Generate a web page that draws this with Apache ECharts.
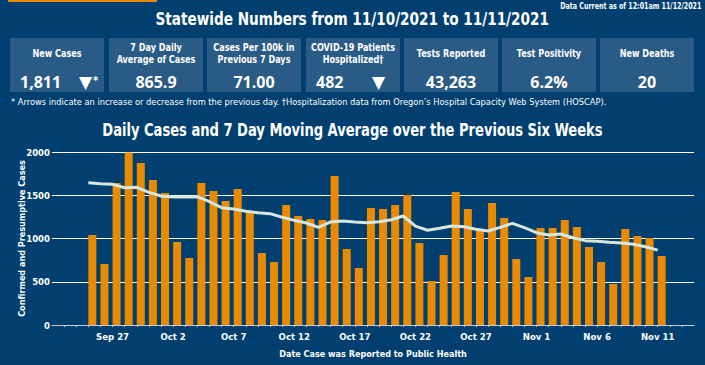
<!DOCTYPE html>
<html>
<head>
<meta charset="utf-8">
<script src="https://cdn.jsdelivr.net/npm/echarts@6/dist/echarts.min.js"></script>
<style>
  html, body { margin:0; padding:0; width:705px; height:365px; overflow:hidden; background:#003f6f; }
  body { position:relative; font-family:"DejaVu Sans Condensed","DejaVu Sans",sans-serif; color:#fff; }
  #chart { position:absolute; left:0; top:0; width:705px; height:365px; }
  .topbar { position:absolute; left:8px; top:0; width:149px; height:2px; background:#e98a00; }
  .stamp { position:absolute; right:4px; top:2px; font-size:8px; font-weight:bold; white-space:nowrap; transform:scaleX(0.88); transform-origin:right center; }
  .head { position:absolute; left:0; width:705px; top:8px; text-align:center; font-size:18px; font-weight:bold; white-space:nowrap; transform:scaleX(0.84); transform-origin:351px center; }
  .ctitle { position:absolute; left:0; width:705px; top:120px; text-align:center; font-size:17px; font-weight:bold; white-space:nowrap; transform:scaleX(0.855); transform-origin:352px center; }
  .box { position:absolute; top:38px; height:54px; width:94px; background:#2a5b86; }
  .lbl { position:absolute; text-align:center; font-size:10px; font-weight:bold; line-height:12px; white-space:nowrap; transform:scaleX(0.9); }
  .val { position:absolute; top:73px; font-family:"Open Sans",sans-serif; font-size:16px; font-weight:bold; line-height:18px; white-space:nowrap; }
  .arrow { position:absolute; top:73px; font-family:"DejaVu Sans",sans-serif; font-size:17px; line-height:18px; }
  .star { position:absolute; top:74px; font-size:11px; font-weight:bold; }
  .note { position:absolute; left:11px; top:96px; font-size:9.5px; white-space:nowrap; transform:scaleX(0.97); transform-origin:left center; }
</style>
</head>
<body>
<div id="chart"></div>
<div class="topbar"></div>
<div class="stamp">Data Current as of 12:01am 11/12/2021</div>
<div class="head">Statewide Numbers from 11/10/2021 to 11/11/2021</div>
<div class="ctitle">Daily Cases and 7 Day Moving Average over the Previous Six Weeks</div>
<div class="note">* Arrows indicate an increase or decrease from the previous day. †Hospitalization data from Oregon’s Hospital Capacity Web System (HOSCAP).</div>
<script>
// ---- Data ----
var statLabels = [
  ["New Cases"],
  ["7 Day Daily", "Average of Cases"],
  ["Cases Per 100k in", "Previous 7 Days"],
  ["COVID-19 Patients", "Hospitalized†"],
  ["Tests Reported"],
  ["Test Positivity"],
  ["New Deaths"]
];
var statValues = ["1,811", "865.9", "71.00", "482", "43,263", "6.2%", "20"];
var statArrows = ["▼", "", "", "▼", "", "", ""];

var dates = ["Sep 22","Sep 23","Sep 24","Sep 25","Sep 26","Sep 27","Sep 28","Sep 29","Sep 30",
  "Oct 1","Oct 2","Oct 3","Oct 4","Oct 5","Oct 6","Oct 7","Oct 8","Oct 9","Oct 10",
  "Oct 11","Oct 12","Oct 13","Oct 14","Oct 15","Oct 16","Oct 17","Oct 18","Oct 19","Oct 20",
  "Oct 21","Oct 22","Oct 23","Oct 24","Oct 25","Oct 26","Oct 27","Oct 28","Oct 29","Oct 30","Oct 31",
  "Nov 1","Nov 2","Nov 3","Nov 4","Nov 5","Nov 6","Nov 7","Nov 8","Nov 9","Nov 10","Nov 11",
  "Nov 12","Nov 13","Nov 14"];

// daily cases, Sep 25 .. Nov 11
var dailyCases = [1040,705,1641,1995,1873,1676,
  1526,960,775,1641,1549,1433,1572,1318,832,728,
  1387,1260,1225,1214,1722,879,659,1352,1341,1387,
  1503,948,509,809,1537,1341,1100,1410,1237,763,555,
  1121,1121,1214,1133,902,728,474,1110,1029,1006,798];

// 7 day moving average, Sep 25 .. Nov 11
var movingAvg = [1645,1633,1626,1587,1592,1534,
  1491,1480,1480,1484,1425,1356,1341,1314,1298,1287,
  1245,1210,1179,1129,1191,1202,1191,1183,1194,1217,
  1260,1144,1095,1118,1144,1136,1106,1087,1129,1175,1125,
  1067,1040,1052,1009,975,967,956,948,933,905,866];

var leadEmpty = 3, trailEmpty = 3;
var yTicks = [0, 500, 1000, 1500, 2000];

// ---- Header boxes ----
var boxLefts = [10, 109, 207, 306, 404, 502, 600];
statLabels.forEach(function (lines, i) {
  var b = document.createElement('div');
  b.className = 'box';
  b.style.left = boxLefts[i] + 'px';
  document.body.appendChild(b);
  lines.forEach(function (t, j) {
    var l = document.createElement('div');
    l.className = 'lbl';
    l.style.left = boxLefts[i] + 'px';
    l.style.width = '94px';
    l.style.top = (lines.length === 1 ? 48 : 42 + j * 12) + 'px';
    l.textContent = t;
    document.body.appendChild(l);
  });
  var v = document.createElement('div');
  v.className = 'val';
  v.textContent = statValues[i];
  document.body.appendChild(v);
  if (statArrows[i]) {
    v.style.left = (boxLefts[i] + 10) + 'px';
    var a = document.createElement('div');
    a.className = 'arrow';
    a.textContent = statArrows[i];
    a.style.left = (boxLefts[i] + (i === 0 ? 69 : 66)) + 'px';
    document.body.appendChild(a);
    if (i === 0) {
      var s = document.createElement('div');
      s.className = 'star';
      s.textContent = '*';
      s.style.left = (boxLefts[i] + 83) + 'px';
      document.body.appendChild(s);
    }
  } else {
    v.style.left = boxLefts[i] + 'px';
    v.style.width = '94px';
    v.style.textAlign = 'center';
  }
});

// ---- Chart ----
function pad(arr) {
  var out = [];
  for (var i = 0; i < leadEmpty; i++) out.push(null);
  arr.forEach(function (v) { out.push(v); });
  for (var k = 0; k < trailEmpty; k++) out.push(null);
  return out;
}
var barData = pad(dailyCases);
var lineData = pad(movingAvg);
var spacer = dates.map(function () { return null; });

var FONT = '"DejaVu Sans Condensed","DejaVu Sans",sans-serif';
var chart = echarts.init(document.getElementById('chart'), null, { renderer: 'svg' });
chart.setOption({
  animation: false,
  backgroundColor: 'transparent',
  grid: { left: 52, right: 11, top: 152, bottom: 40, containLabel: false },
  xAxis: {
    type: 'category',
    data: dates,
    boundaryGap: false,
    name: 'Date Case was Reported to Public Health',
    nameLocation: 'middle',
    nameGap: 24,
    nameMoveOverlap: false,
    nameTextStyle: { color: '#ffffff', fontSize: 9, fontWeight: 'bold', fontFamily: FONT },
    axisLine: { show: true, lineStyle: { color: '#c5ccd4', width: 1 } },
    axisTick: { show: true, length: 2, lineStyle: { color: '#c5ccd4' },
      interval: function (i) { return i > 0 && i < dates.length - 1; } },
    axisLabel: { color: '#ffffff', fontSize: 9.5, fontWeight: 'bold', fontFamily: FONT, margin: 6,
      interval: function (i) { return i > 0 && i % 5 === 0; } },
    splitLine: { show: false }
  },
  yAxis: {
    type: 'value',
    min: 0, max: 2000, interval: 500,
    name: 'Confirmed and Presumptive Cases',
    nameLocation: 'middle',
    nameGap: 26,
    nameMoveOverlap: false,
    nameTextStyle: { color: '#ffffff', fontSize: 9, fontWeight: 'bold', fontFamily: FONT },
    axisLine: { show: false },
    axisTick: { show: false },
    axisLabel: { color: '#ffffff', fontSize: 9.5, fontWeight: 'bold', fontFamily: FONT, margin: 2,
      formatter: function (v) { return yTicks.indexOf(v) >= 0 ? String(v) : ''; } },
    splitLine: { show: true, lineStyle: { color: '#ffffff', width: 1 } }
  },
  series: [
    { type: 'bar', data: spacer, barWidth: 8, barGap: '0%', silent: true, itemStyle: { color: 'transparent' } },
    { type: 'bar', data: barData, barWidth: 8, barGap: '0%', itemStyle: { color: '#ea8a00' } },
    { type: 'line', data: lineData, symbol: 'none', smooth: false, connectNulls: false,
      lineStyle: { color: '#d7e6de', width: 3 }, z: 5 }
  ]
});
</script>
</body>
</html>
